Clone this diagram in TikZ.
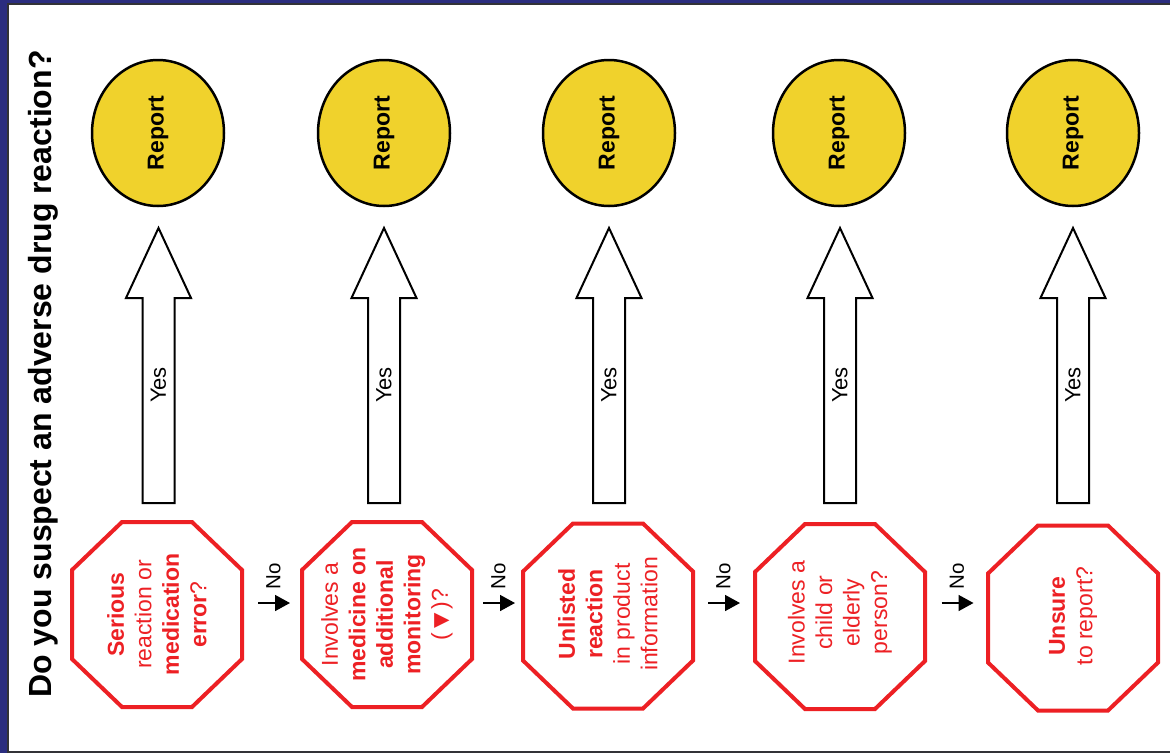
\documentclass[tikz,border=0pt]{standalone}
\usepackage{fontspec}
\setmainfont{Liberation Sans}
\newfontfamily\symfont{DejaVu Sans}
\usetikzlibrary{arrows.meta,calc,shapes.geometric}
\definecolor{navy}{RGB}{43,45,127}
\definecolor{stopred}{RGB}{237,32,36}
\definecolor{repyellow}{RGB}{240,210,44}
\definecolor{framegray}{RGB}{50,50,55}
\begin{document}
\begin{tikzpicture}[x=1pt,y=-1pt,
  report/.style={ellipse, rotate=90, draw=black, fill=repyellow, line width=2.5pt,
    minimum width=146pt, minimum height=132pt, inner sep=0pt,
    font=\fontsize{23}{26}\selectfont\bfseries},
  octtext/.style={text=stopred, align=center, rotate=90, inner sep=0pt,
    font=\fontsize{23}{27.5}\selectfont},
  octline/.style={draw=stopred, line width=4pt, line join=miter},
  yesarrow/.style={draw=black, fill=white, line width=2pt, line join=miter},
  noarrow/.style={-{Triangle[length=15pt,width=16pt]}, line width=1.6pt},
  yeslbl/.style={rotate=90, inner sep=0pt, font=\fontsize{22}{24}\selectfont},
  nolbl/.style={rotate=90, inner sep=0pt, font=\fontsize{20.5}{22}\selectfont},
  titlelbl/.style={rotate=90, anchor=base, inner sep=0pt, font=\fontsize{32}{36}\selectfont\bfseries}
]
\useasboundingbox (0,0) rectangle (1170,753);
\fill[white] (0,0) rectangle (1170,753);
% frame
\fill[navy] (0,0) rectangle (7,753);
\fill[navy] (0,0) rectangle (1170,3);
\draw[framegray, line width=1.5pt] (8,753) -- (8,4) -- (1170,4);
\draw[framegray, line width=1.5pt] (8,752) -- (1170,752);

% title
\node[titlelbl] (title) at (51,374) {Do you suspect an adverse drug reaction?};

% report ellipses
\node[report] (r1) at (158,133) {Report};
\node[report] (r2) at (384,133) {Report};
\node[report] (r3) at (609,133) {Report};
\node[report] (r4) at (839,133) {Report};
\node[report] (r5) at (1073,133) {Report};

% octagons
\foreach \n/\x/\y in {o1/157/614.5, o2/387/614.5, o3/608/616, o4/840/616.5, o5/1073/618} {
  \coordinate (\n) at (\x,\y);
  \draw[octline] ($(\n)+(-35,-92.5)$) -- ++(70,0) -- ++(50,48) -- ++(0,89) -- ++(-50,48)
     -- ++(-70,0) -- ++(-50,-48) -- ++(0,-89) -- cycle;
}
\node[octtext] (q1) at (o1) {\textbf{Serious}\\reaction or\\\textbf{medication}\\\textbf{error}?};
\node[octtext] (q2) at (o2) {Involves a\\\textbf{medicine on}\\\textbf{additional}\\\textbf{monitoring}\\(\,{\symfont\fontsize{20}{27.5}\selectfont ▼}\,)?};
\node[octtext] (q3) at ($(o3)+(0,-2)$) {\textbf{Unlisted}\\\textbf{reaction}\\in product\\information};
\node[octtext] (q4) at ($(o4)+(0,-4)$) {Involves a\\child or\\elderly\\person?};
\node[octtext] (q5) at ($(o5)+(0,-2)$) {\textbf{Unsure}\\to report?};

% yes arrows
\foreach \i/\x in {1/158.5,2/384,3/609,4/840,5/1073} {
  \coordinate (b\i) at (\x,503);
  \coordinate (t\i) at (\x,228);
  \draw[yesarrow] ($(b\i)+(-16,0)$) -- ($(b\i)+(-16,-205)$) -- ($(b\i)+(-32.5,-205)$) -- (t\i)
     -- ($(b\i)+(32.5,-205)$) -- ($(b\i)+(16,-205)$) -- ($(b\i)+(16,0)$) -- cycle;
  \node[yeslbl] (y\i) at (\x,385) {Yes};
}

% no arrows
\foreach \i/\x in {1/274,2/499,3/724,4/957.5} {
  \coordinate (ns\i) at (\x-16,603);
  \coordinate (ne\i) at (\x+16,603);
  \draw[noarrow] (ns\i) -- (ne\i);
  \node[nolbl] (no\i) at (\x-0.5,576) {No};
}
\end{tikzpicture}
\end{document}
